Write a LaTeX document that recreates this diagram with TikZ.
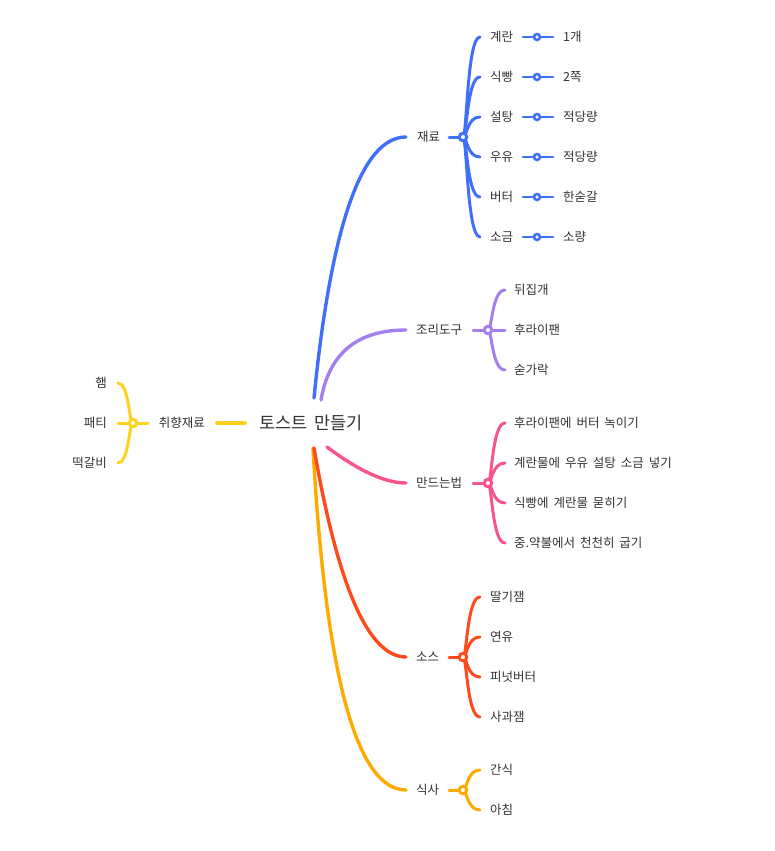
\documentclass[tikz,border=0pt]{standalone}
\usepackage{fontspec}
\newfontfamily\kr[WordSpace=1.75]{Noto Sans CJK KR}
\usetikzlibrary{calc}
\definecolor{txt}{HTML}{333333}
\definecolor{cblue}{HTML}{4070FA}
\definecolor{cpurple}{HTML}{A67FEF}
\definecolor{cpink}{HTML}{F7548A}
\definecolor{cred}{HTML}{FF4A1C}
\definecolor{corange}{HTML}{FFAA00}
\definecolor{cyellow}{HTML}{FFD21F}
\pgfdeclarelayer{bg}
\pgfsetlayers{bg,main}
\tikzset{
  lbl/.style={font=\kr\fontsize{12.5}{14}\selectfont, text=txt, inner sep=0pt, anchor=west},
  lblr/.style={lbl, anchor=east},
  rootlbl/.style={font=\kr\fontsize{17.5}{20}\selectfont, text=txt, inner sep=0pt, anchor=west},
  hub/.style={circle, fill=white, line width=3pt, minimum size=7.5pt, inner sep=0pt},
  dotc/.style={circle, fill=white, line width=2.5pt, minimum size=6pt, inner sep=0pt},
  edge/.style={line width=3pt, line cap=round},
  thinedge/.style={line width=2.6pt, line cap=round},
  mainedge/.style={line width=3.4pt, line cap=round}
}
\begin{document}
\begin{tikzpicture}[x=1pt,y=-1pt]
\useasboundingbox (0,0) rectangle (775,851);

% root
\node[rootlbl] (root) at (259,423) {토스트 만들기};

% ---------- left: 취향재료 ----------
\coordinate (yA) at (245,423);
\coordinate (yB) at (217,423);
\node[lblr] (yL) at (205,423) {취향재료};
\coordinate (yK) at (148,423);
\node[hub, draw=cyellow] (yhub) at (133,423) {};
\begin{pgfonlayer}{bg}
\draw[edge, cyellow, line width=3.8pt] (yA) -- (yB);
\draw[edge, cyellow] (yK) -- (yhub.center);
\end{pgfonlayer}
\foreach \yy/\a [count=\i] in {383/햄, 423/패티, 463/떡갈비}{
  \coordinate (ye\i) at (118,\yy);
  \node[lblr] (yl\i) at (107,\yy) {\a};
  \begin{pgfonlayer}{bg}
  \draw[edge, cyellow] (yhub.center) .. controls ([xshift=-4pt]yhub.center) and ([xshift=11pt]ye\i) .. (ye\i);
  \end{pgfonlayer}
}

% ---------- 재료 (blue) ----------
\coordinate (bS) at (314,398);
\coordinate (bE) at (406,137);
\node[lbl] (bL) at (417,137) {재료};
\coordinate (bK) at (449,137);
\node[hub, draw=cblue] (bhub) at (463,137) {};
\begin{pgfonlayer}{bg}
\draw[mainedge, cblue] (bS) .. controls (331.3,224) and (362,137) .. (bE);
\draw[edge, cblue] (bK) -- (bhub.center);
\end{pgfonlayer}
\foreach \yy/\a/\b [count=\i] in {37/계란/1개, 77/식빵/2쪽, 117/설탕/적당량, 157/우유/적당량, 197/버터/한숟갈, 237/소금/소량}{
  \coordinate (be\i) at (480,\yy);
  \node[lbl] (bl\i) at (490,\yy) {\a};
  \coordinate (bs\i) at (523,\yy);
  \node[dotc, draw=cblue] (bd\i) at (537,\yy) {};
  \coordinate (bt\i) at (553,\yy);
  \node[lbl] (bv\i) at (563,\yy) {\b};
  \begin{pgfonlayer}{bg}
  \draw[edge, cblue] (bhub.center) .. controls ([xshift=4pt]bhub.center) and ([xshift=-13pt]be\i) .. (be\i);
  \draw[thinedge, cblue] (bs\i) -- (bt\i);
  \end{pgfonlayer}
}

% ---------- 조리도구 (purple) ----------
\coordinate (pS) at (321,400);
\coordinate (pE) at (406,330);
\node[lbl] (pL) at (416,330) {조리도구};
\coordinate (pK) at (473,330);
\node[hub, draw=cpurple] (phub) at (488,330) {};
\begin{pgfonlayer}{bg}
\draw[mainedge, cpurple] (pS) .. controls (329,353.3) and (357.3,330) .. (pE);
\draw[edge, cpurple] (pK) -- (phub.center);
\end{pgfonlayer}
\foreach \yy/\a [count=\i] in {290/뒤집개, 330/후라이팬, 370/숟가락}{
  \coordinate (pe\i) at (505,\yy);
  \node[lbl] (pl\i) at (514,\yy) {\a};
  \begin{pgfonlayer}{bg}
  \draw[edge, cpurple] (phub.center) .. controls ([xshift=4pt]phub.center) and ([xshift=-13pt]pe\i) .. (pe\i);
  \end{pgfonlayer}
}

% ---------- 만드는법 (pink) ----------
\coordinate (kS) at (327,447);
\coordinate (kE) at (406,483);
\node[lbl] (kL) at (416,483) {만드는법};
\coordinate (kK) at (473,483);
\node[hub, draw=cpink] (khub) at (488,483) {};
\begin{pgfonlayer}{bg}
\draw[mainedge, cpink] (kS) .. controls (359,471) and (385.3,483) .. (kE);
\draw[edge, cpink] (kK) -- (khub.center);
\end{pgfonlayer}
\foreach \yy/\a [count=\i] in {423/후라이팬에 버터 녹이기, 463/계란물에 우유 설탕 소금 넣기, 503/식빵에 계란물 묻히기, 543/중.약불에서 천천히 굽기}{
  \coordinate (ke\i) at (505,\yy);
  \node[lbl] (kl\i) at (514,\yy) {\a};
  \begin{pgfonlayer}{bg}
  \draw[edge, cpink] (khub.center) .. controls ([xshift=4pt]khub.center) and ([xshift=-13pt]ke\i) .. (ke\i);
  \end{pgfonlayer}
}

% ---------- 소스 (red) ----------
\coordinate (rS) at (314,448);
\coordinate (rE) at (406,657);
\node[lbl] (rL) at (416,657) {소스};
\coordinate (rK) at (449,657);
\node[hub, draw=cred] (rhub) at (463,657) {};
\begin{pgfonlayer}{bg}
\draw[edge, cred] (rK) -- (rhub.center);
\end{pgfonlayer}
\foreach \yy/\a [count=\i] in {597/딸기잼, 637/연유, 677/피넛버터, 717/사과잼}{
  \coordinate (re\i) at (480,\yy);
  \node[lbl] (rl\i) at (490,\yy) {\a};
  \begin{pgfonlayer}{bg}
  \draw[edge, cred] (rhub.center) .. controls ([xshift=4pt]rhub.center) and ([xshift=-13pt]re\i) .. (re\i);
  \end{pgfonlayer}
}

% ---------- 식사 (orange) ----------
\coordinate (oS) at (313,448);
\coordinate (oE) at (406,790);
\node[lbl] (oL) at (416,790) {식사};
\coordinate (oK) at (449,790);
\node[hub, draw=corange] (ohub) at (463,790) {};
\begin{pgfonlayer}{bg}
\draw[mainedge, corange] (oS) .. controls (325.7,676) and (356.7,790) .. (oE);
\draw[mainedge, cred] (rS) .. controls (338,587.3) and (368.7,657) .. (rE);
\draw[edge, corange] (oK) -- (ohub.center);
\end{pgfonlayer}
\foreach \yy/\a [count=\i] in {770/간식, 810/아침}{
  \coordinate (oe\i) at (480,\yy);
  \node[lbl] (ol\i) at (490,\yy) {\a};
  \begin{pgfonlayer}{bg}
  \draw[edge, corange] (ohub.center) .. controls ([xshift=4pt]ohub.center) and ([xshift=-13pt]oe\i) .. (oe\i);
  \end{pgfonlayer}
}
\end{tikzpicture}
\end{document}
